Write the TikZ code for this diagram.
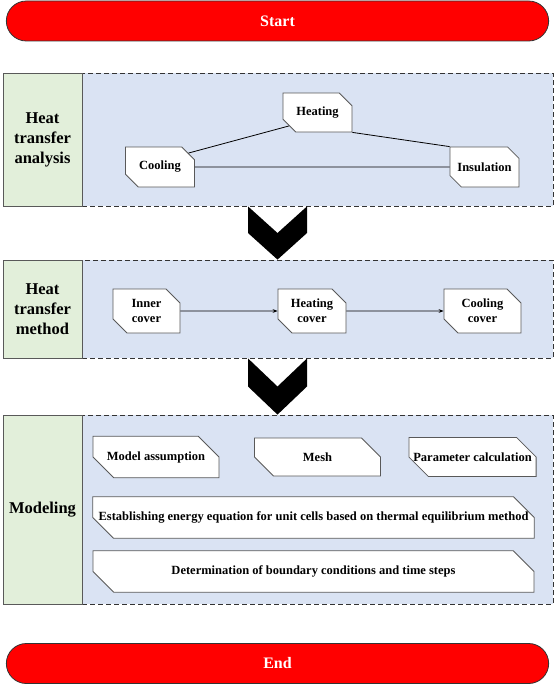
\documentclass[tikz,border=0pt]{standalone}
\usepackage{fontspec}
\setmainfont{Liberation Serif}
\usetikzlibrary{positioning, arrows.meta, shapes.misc, calc}
\definecolor{flowred}{HTML}{FF0000}
\definecolor{flowgreen}{HTML}{E2EFDA}
\definecolor{flowblue}{HTML}{DAE3F3}
\definecolor{flowgray}{HTML}{595959}

\begin{document}
\begin{tikzpicture}[x=1pt, y=-1pt, line width=0.8pt,
    term/.style={rounded rectangle, draw=black!80, fill=flowred, text=white, minimum width=549pt,
      minimum height=40pt, font=\fontsize{16}{19}\selectfont\bfseries},
    stage/.style={draw=flowgray, fill=flowgreen, minimum width=79pt, inner sep=0pt, align=center,
      font=\fontsize{16.5}{20}\selectfont\bfseries},
    panel/.style={draw=black!80, dash pattern=on 5pt off 3pt, fill=flowblue, minimum width=471pt, inner sep=0pt},
    box/.style={chamfered rectangle, chamfered rectangle corners={north east, south west},
      chamfered rectangle xsep=7pt, chamfered rectangle ysep=7pt, draw=flowgray, fill=white,
      inner sep=0pt, align=center, font=\fontsize{12.5}{15}\selectfont\bfseries},
    bigbox/.style={box, chamfered rectangle xsep=15pt, chamfered rectangle ysep=15pt}]
  \useasboundingbox (0,0) rectangle (554,685);

  % Start / End
  \node[term] (start) at (277.5,21) {Start};
  \node[term] (end) at (277.5,663.5) {End};

  % Stages
  \node[panel, minimum height=133pt] (pan1) at (317.5,139.5) {};
  \node[panel, minimum height=98pt] (pan2) at (317.5,309) {};
  \node[panel, minimum height=189pt] (pan3) at (317.5,509.5) {};
  \node[stage, minimum height=133pt] (lab1) at (42.5,139.5) {Heat\\transfer\\analysis};
  \node[stage, minimum height=98pt] (lab2) at (42.5,309) {Heat\\transfer\\method};
  \node[stage, minimum height=189pt] (lab3) at (42.5,509.5) {Modeling};

  % Chevrons
  \foreach \u/\v in {pan1/pan2, pan2/pan3}{
    \coordinate (top) at (start.center |- \u.south);
    \coordinate (tip) at (start.center |- \v.north);
    \fill[black, line width=0pt] ($(top)+(-29.5,0)$) -- ($(top)!0.5!(tip)$) -- ($(top)+(29.5,0)$)
      -- ($(top)!0.5!(tip)+(29.5,0)$) -- (tip) -- ($(top)!0.5!(tip)+(-29.5,0)$) -- cycle;
  }

  % Heat transfer analysis
  \node[box, minimum width=69pt, minimum height=40pt] (cool) at (160,167) {Cooling};
  \node[box, minimum width=69pt, minimum height=39pt] (heat) at (317.5,112.5) {Heating};
  \node[box, minimum width=69pt, minimum height=40pt] (insul) at (484.5,167) {Insulation};
  \draw (cool.north east) -- (heat.south west);
  \draw (heat.south east) -- (insul.north west);
  \draw (cool) -- (insul);

  % Heat transfer method
  \node[box, minimum width=67pt, minimum height=44pt] (inner) at (146.5,311) {Inner\\cover};
  \node[box, minimum width=68pt, minimum height=44pt] (hcover) at (312,311) {Heating\\cover};
  \node[box, minimum width=77pt, minimum height=44pt] (ccover) at (482.5,311) {Cooling\\cover};
  \draw[-{Stealth[length=5pt]}] (inner) -- (hcover);
  \draw[-{Stealth[length=5pt]}] (hcover) -- (ccover);

  % Modeling
  \node[bigbox, minimum width=126pt, minimum height=38pt] (assum) at (156,457) {Model assumption};
  \node[bigbox, minimum width=126pt, minimum height=38pt] (mesh) at (317.5,457) {Mesh};
  \node[bigbox, minimum width=126pt, minimum height=38pt] (param) at (472.5,457) {Parameter calculation};
  \node[bigbox, minimum width=441pt, minimum height=39pt] (energy) at (313.5,517.5)
    {Establishing energy equation for unit cells based on thermal equilibrium method};
  \node[bigbox, minimum width=441pt, minimum height=37pt] (bound) at (313.5,571.5)
    {Determination of boundary conditions and time steps};
\end{tikzpicture}
\end{document}
